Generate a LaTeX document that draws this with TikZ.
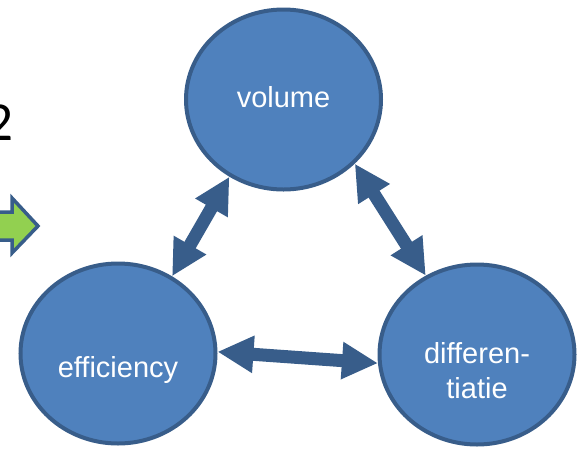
\documentclass[tikz,border=0pt]{standalone}
\usepackage{fontspec}
\setmainfont{Liberation Sans}
\newfontfamily\slidefont{Carlito}
\usetikzlibrary{arrows.meta,shapes.geometric}

\definecolor{bubblefill}{HTML}{4F81BD}
\definecolor{bubbleline}{HTML}{385D8A}
\definecolor{nextgreen}{HTML}{92D050}

\begin{document}
\begin{tikzpicture}[x=1pt,y=-1pt,
    bubble/.style={ellipse,draw=bubbleline,fill=bubblefill,line width=4pt,
      minimum width=195pt,minimum height=180pt,inner sep=0pt},
    lbl/.style={text=white,align=center,font=\fontsize{29}{35}\selectfont},
    link/.style={draw=bubbleline,line width=13pt,
      {Triangle[length=36pt,width=35pt]}-{Triangle[length=36pt,width=35pt]}}]
  \useasboundingbox (0,0) rectangle (578,448);
  \clip (0,0) rectangle (578,448);

  \node[anchor=base east,inner sep=0pt,font=\slidefont\fontsize{55}{66}\selectfont] (num) at (14,140) {2};
  \draw[bubbleline,fill=nextgreen,line width=3.5pt,line join=miter]
    (-5,212) -- (12,212) -- (12,198) -- (38,226) -- (12,253) -- (12,240) -- (-5,240) -- cycle;

  \node[bubble,label={[lbl,yshift=2pt]center:volume}] (vol) at (283.5,99.5) {};
  \node[bubble,label={[lbl,yshift=-16pt]center:efficiency}] (eff) at (118,353.5) {};
  \node[bubble,label={[lbl,yshift=-16pt]center:differen-\\tiatie}] (dif) at (477,354.5) {};

  \draw[link] (vol.235) -- (eff.55);
  \draw[link] (vol.318) -- (dif.123);
  \draw[link] (eff.1) -- (dif.185);
\end{tikzpicture}
\end{document}
